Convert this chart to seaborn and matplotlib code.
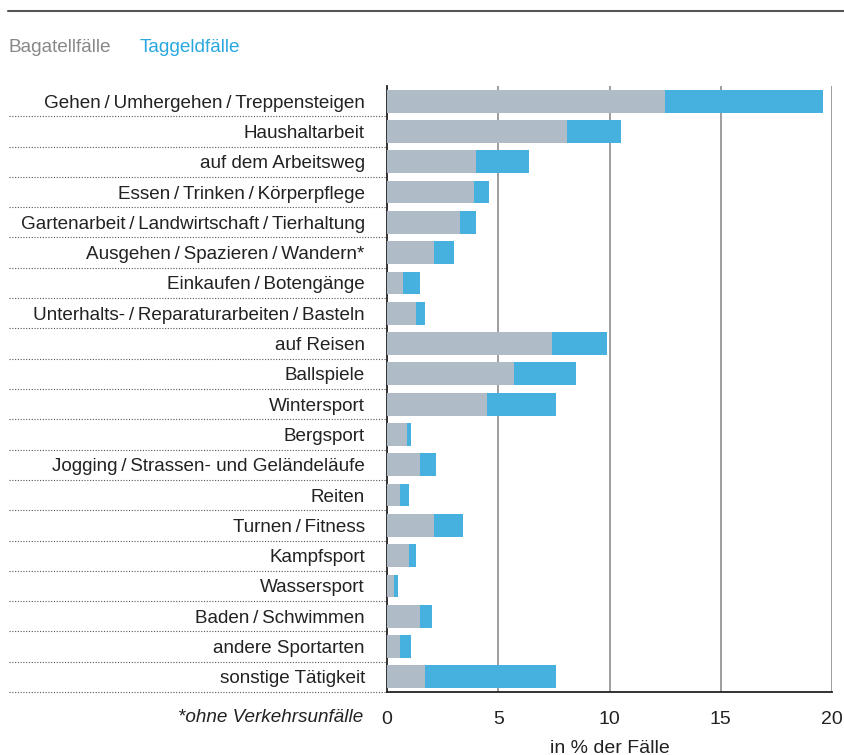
import numpy as np
import pandas as pd
import matplotlib
matplotlib.use("Agg")
import matplotlib.pyplot as plt
from matplotlib.lines import Line2D
import seaborn as sns

categories = [
    "Gehen / Umhergehen / Treppensteigen",
    "Haushaltarbeit",
    "auf dem Arbeitsweg",
    "Essen / Trinken / Körperpflege",
    "Gartenarbeit / Landwirtschaft / Tierhaltung",
    "Ausgehen / Spazieren / Wandern*",
    "Einkaufen / Botengänge",
    "Unterhalts- / Reparaturarbeiten / Basteln",
    "auf Reisen",
    "Ballspiele",
    "Wintersport",
    "Bergsport",
    "Jogging / Strassen- und Geländeläufe",
    "Reiten",
    "Turnen / Fitness",
    "Kampfsport",
    "Wassersport",
    "Baden / Schwimmen",
    "andere Sportarten",
    "sonstige Tätigkeit",
]
bagatell = [12.5, 8.1, 4.0, 3.9, 3.3, 2.1, 0.7, 1.3, 7.4, 5.7, 4.5, 0.9, 1.5, 0.6, 2.1, 1.0, 0.3, 1.5, 0.6, 1.7]
taggeld = [7.1, 2.4, 2.4, 0.7, 0.7, 0.9, 0.8, 0.4, 2.5, 2.8, 3.1, 0.2, 0.7, 0.4, 1.3, 0.3, 0.2, 0.5, 0.5, 5.9]
xticks = [0, 5, 10, 15, 20]

GRAY = "#afbcc7"
BLUE = "#46b1de"

# thin spaces around slashes, as in the original typesetting
labels = [c.replace(" / ", "\u2009/\u2009") for c in categories]

df = pd.DataFrame({"cat": labels, "bag": bagatell, "tag": taggeld})
df["total"] = df["bag"] + df["tag"]

sns.set_style("white")
plt.rcParams["font.family"] = ["Liberation Sans", "DejaVu Sans"]

fig = plt.figure(figsize=(8.44, 7.55), dpi=100)
ax = fig.add_axes([387 / 844, 1 - 692 / 755, 445 / 844, 606 / 755])

sns.barplot(data=df, x="total", y="cat", color=BLUE, orient="h", width=0.75,
            saturation=1, linewidth=0, ax=ax, zorder=3)
sns.barplot(data=df, x="bag", y="cat", color=GRAY, orient="h", width=0.75,
            saturation=1, linewidth=0, ax=ax, zorder=4)

ax.set_xlim(0, 20)
ax.set_ylim(len(df) - 0.5, -0.5)
ax.set_xticks(xticks)
ax.set_xticklabels([str(t) for t in xticks], fontsize=14, color="#222222")
ax.tick_params(axis="x", length=6, width=1, color="#222222", pad=8)
ax.set_yticks(range(len(df)))
ax.set_yticklabels(df["cat"], fontsize=13.6, color="#222222")
ax.tick_params(axis="y", length=0, pad=16)
ax.set_xlabel("in % der Fälle", fontsize=14, color="#222222", labelpad=8)
ax.set_ylabel("")

for v in xticks[1:]:
    ax.axvline(v, color="#8e8e8e", lw=1.2, zorder=1)

for s in ["top", "right"]:
    ax.spines[s].set_visible(False)
ax.spines["left"].set_color("#222222")
ax.spines["bottom"].set_color("#222222")
ax.spines["left"].set_linewidth(1.3)
ax.spines["bottom"].set_linewidth(1.3)

# dotted separators on the label side
for i in range(len(df)):
    yb = i + 0.5
    ax.plot([-378 / 22.25, 0], [yb, yb], color="#555555", lw=0.8,
            ls=(0, (1, 1.5)), clip_on=False, zorder=2)

# top rule
fig.add_artist(Line2D([8 / 844, 1.0], [1 - 11 / 755, 1 - 11 / 755],
                      color="#555555", lw=1.5))

# legend as coloured text
fig.text(8 / 844, 1 - 47 / 755, "Bagatellfälle", color="#888888", fontsize=13.7,
         va="center", ha="left")
fig.text(140 / 844, 1 - 47 / 755, "Taggeldfälle", color="#29a8e0", fontsize=13.7,
         va="center", ha="left")

fig.text(363 / 844, 1 - 717 / 755, "*ohne Verkehrsunfälle", fontsize=13.6,
         style="italic", color="#222222", ha="right", va="center")

fig.savefig("out.png", dpi=100)
